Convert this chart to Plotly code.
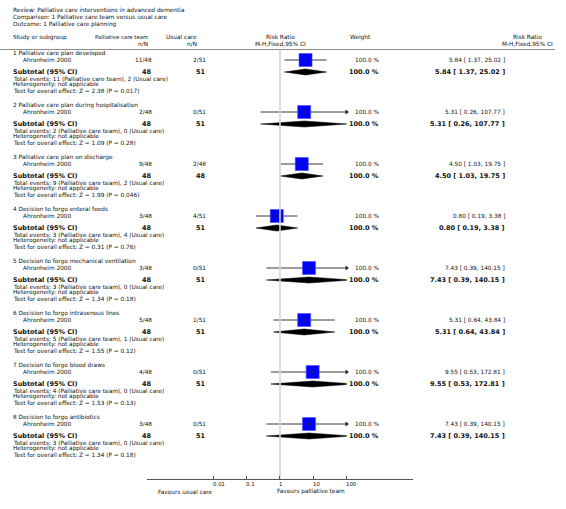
import math
import plotly.graph_objects as go

# ---------------- data ----------------
review = "Review: Palliative care interventions in advanced dementia"
comparison = "Comparison: 1 Palliative care team versus usual care"
outcome = "Outcome: 1 Palliative care planning"

groups = [
    "1 Palliative care plan developed",
    "2 Palliative care plan during hospitalisation",
    "3 Palliative care plan on discharge",
    "4 Decision to forgo enteral feeds",
    "5 Decision to forgo mechanical ventilation",
    "6 Decision to forgo intravenous lines",
    "7 Decision to forgo blood draws",
    "8 Decision to forgo antibiotics",
]
study = "Ahronheim 2000"
pal_events = [11, 2, 9, 3, 3, 5, 4, 3]
pal_total = [48, 48, 48, 48, 48, 48, 48, 48]
usual_events = [2, 0, 2, 4, 0, 1, 0, 0]
usual_total = [51, 51, 48, 51, 51, 51, 51, 51]
rr = [5.84, 5.31, 4.50, 0.80, 7.43, 5.31, 9.55, 7.43]
rr_lo = [1.37, 0.26, 1.03, 0.19, 0.39, 0.64, 0.53, 0.39]
rr_hi = [25.02, 107.77, 19.75, 3.38, 140.15, 43.84, 172.81, 140.15]
weight = [100.0, 100.0, 100.0, 100.0, 100.0, 100.0, 100.0, 100.0]
z_vals = ["2.38", "1.09", "1.99", "0.31", "1.34", "1.55", "1.53", "1.34"]
p_vals = ["0.017", "0.28", "0.046", "0.76", "0.18", "0.12", "0.13", "0.18"]
tick_vals = [0.01, 0.1, 1, 10, 100]
tick_text = ["0.01", "0.1", "1", "10", "100"]
left_label = "Favours usual care"
right_label = "Favours palliative team"

# ---------------- layout constants (pixels) ----------------
W, H = 566, 509
FONT = "DejaVu Sans"
FS = 5.8       # regular text
FSB = 6.5      # bold text
ROW0 = 60      # study row of first group
PITCH = 52     # rows per group
AXIS_Y = 479
X_LEFT = 13
X_STUDY = 23
X_PAL = 152
X_USU = 206
X_W = 379
X_RR = 505
DEC = 33.333   # pixels per decade
X_ONE = 280    # pixel position of RR = 1

fig = go.Figure()
annotations = []


def txt(xp, yp, s, anchor="left", bold=False, size=None, color="#111", xref="paper", xval=None):
    if bold:
        s = "<b>" + s + "</b>"
    annotations.append(dict(
        x=(xp / W) if xval is None else xval, y=1 - yp / H, xref=xref, yref="paper", text=s,
        xanchor=anchor, yanchor="middle", showarrow=False,
        borderpad=0, borderwidth=0,
        font=dict(family=FONT, size=size or (FSB if bold else FS), color=color),
    ))


# title block
txt(X_LEFT, 10.5, review)
txt(X_LEFT, 17.5, comparison)
txt(X_LEFT, 24.5, outcome)

# column headers
H1, H2 = 37.5, 44
txt(X_LEFT, H1, "Study or subgroup")
txt(148, H1, "Palliative care team", "right", size=5.4)
txt(148, H2, "n/N", "right")
txt(197, H1, "Usual care", "right")
txt(197, H2, "n/N", "right")
txt(X_ONE, H1, "Risk Ratio", "center")
txt(X_ONE, H2, "M-H,Fixed,95% CI", "center")
txt(360, H1, "Weight", "center")
txt(527, H1, "Risk Ratio", "center")
txt(527, H2, "M-H,Fixed,95% CI", "center")

fig.add_shape(type="line", xref="paper", yref="paper", x0=0, x1=555 / W,
              y0=1 - 49.5 / H, y1=1 - 49.5 / H, line=dict(color="#8c8c8c", width=1.2))

# reference line at RR = 1 (on the wide axis)
fig.add_trace(go.Scatter(x=[1, 1], y=[49.5, AXIS_Y], mode="lines", xaxis="x2", yaxis="y",
                         line=dict(color="#d4d4d4", width=1.6), hoverinfo="skip"))

for k in range(len(groups)):
    s = ROW0 + PITCH * k
    sub = s + 12
    # text
    txt(X_LEFT, s - 6.3, groups[k])
    txt(X_STUDY, s, study)
    txt(X_PAL, s, f"{pal_events[k]}/{pal_total[k]}", "right")
    txt(X_USU, s, f"{usual_events[k]}/{usual_total[k]}", "right")
    txt(X_W, s, f"{weight[k]:.1f} %", "right")
    txt(X_RR, s, f"{rr[k]:.2f} [ {rr_lo[k]:.2f}, {rr_hi[k]:.2f} ]", "right")
    txt(X_LEFT, sub, "Subtotal (95% CI)", bold=True)
    txt(X_PAL, sub, f"{pal_total[k]}", "right", bold=True)
    txt(X_USU, sub, f"{usual_total[k]}", "right", bold=True)
    txt(X_W, sub, f"{weight[k]:.1f} %", "right", bold=True)
    txt(X_RR, sub, f"{rr[k]:.2f} [ {rr_lo[k]:.2f}, {rr_hi[k]:.2f} ]", "right", bold=True)
    txt(X_LEFT, s + 18.6, f"Total events: {pal_events[k]} (Palliative care team), {usual_events[k]} (Usual care)")
    txt(X_LEFT, s + 24.9, "Heterogeneity: not applicable")
    txt(X_LEFT, s + 31.2, f"Test for overall effect: Z = {z_vals[k]} (P = {p_vals[k]})")

    # confidence interval line
    fig.add_trace(go.Scatter(x=[rr_lo[k], rr_hi[k]], y=[s, s], mode="lines",
                             line=dict(color="#222", width=0.9), hoverinfo="skip"))
    if rr_hi[k] > tick_vals[-1]:
        fig.add_trace(go.Scatter(x=[tick_vals[-1]], y=[s], mode="markers", cliponaxis=False,
                                 marker=dict(symbol="triangle-right", size=4.5, color="#222"),
                                 hoverinfo="skip"))
    # study square
    fig.add_trace(go.Scatter(x=[rr[k]], y=[s], mode="markers",
                             marker=dict(symbol="square", size=13, color="#0000ff",
                                         line=dict(color="#4a4aff", width=0.6)),
                             hoverinfo="skip"))
    fig.add_trace(go.Scatter(x=[rr[k]], y=[s], mode="markers",
                             marker=dict(symbol="cross-thin", size=3.5,
                                         line=dict(color="#202060", width=0.7)),
                             hoverinfo="skip"))
    # subtotal diamond
    fig.add_trace(go.Scatter(x=[rr_lo[k], rr[k], rr_hi[k], rr[k], rr_lo[k]],
                             y=[sub, sub - 3, sub, sub + 3, sub],
                             mode="lines", fill="toself", fillcolor="#000000",
                             line=dict(color="#000000", width=0.5), hoverinfo="skip"))

# tick labels (left-aligned at each tick, as in the original)
for v, t in zip(tick_vals, tick_text):
    txt(0, 484, t, "left", xref="x2", xval=math.log10(v) - 0.02, size=5.4)

# bottom labels
txt(213, 491.5, left_label, "right")
txt(277, 491.5, right_label, "left")

fig.update_layout(
    width=W, height=H, margin=dict(l=0, r=0, t=0, b=0),
    paper_bgcolor="white", plot_bgcolor="rgba(0,0,0,0)", showlegend=False,
    annotations=annotations,
    xaxis=dict(type="log", range=[-2, 2],
               domain=[(X_ONE - 2 * DEC) / W, (X_ONE + 2 * DEC) / W],
               anchor="y", visible=False),
    xaxis2=dict(type="log", range=[-4, 4],
                domain=[(X_ONE - 4 * DEC) / W, (X_ONE + 4 * DEC) / W],
                anchor="y", showline=True, linecolor="#555", linewidth=1,
                ticks="inside", ticklen=3, tickcolor="#555", tickwidth=1,
                tickvals=tick_vals, showticklabels=False, showgrid=False, zeroline=False),
    yaxis=dict(range=[AXIS_Y, 0], domain=[(H - AXIS_Y) / H, 1], visible=False),
)

fig.write_html("out.html", config={"displayModeBar": False},
               post_script="document.body.style.margin='0px';document.body.style.padding='0px';")
